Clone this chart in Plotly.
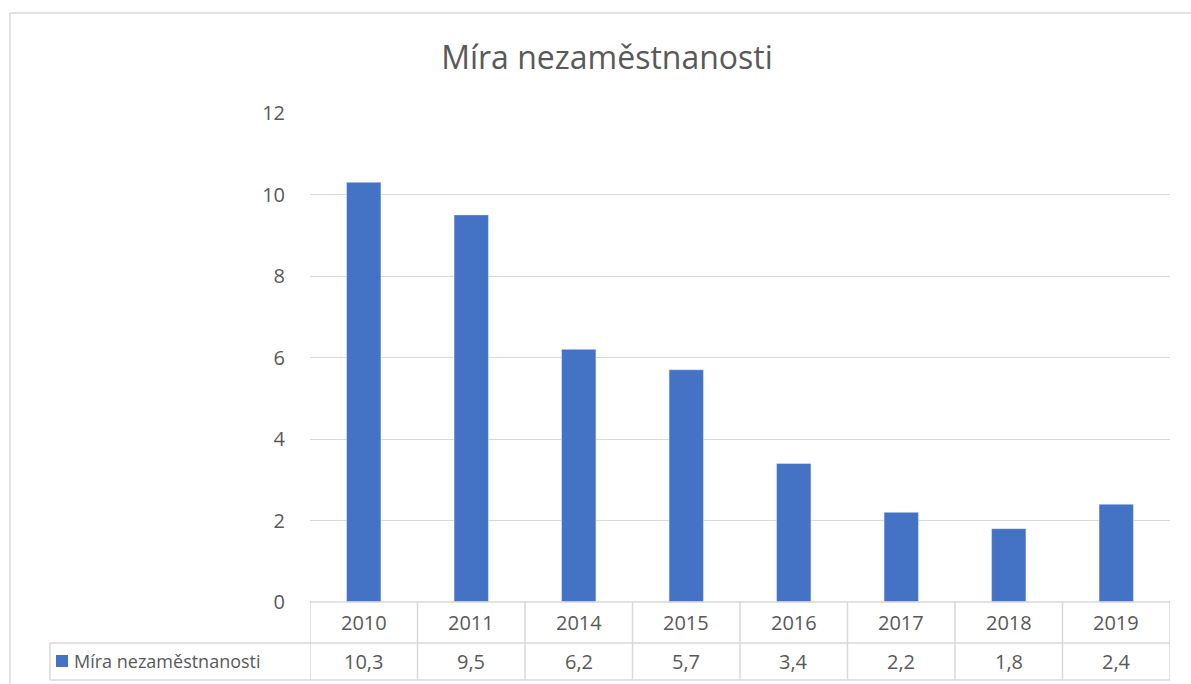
import plotly.graph_objects as go

years = ["2010", "2011", "2014", "2015", "2016", "2017", "2018", "2019"]
rate = [10.3, 9.5, 6.2, 5.7, 3.4, 2.2, 1.8, 2.4]
rate_labels = ["10,3", "9,5", "6,2", "5,7", "3,4", "2,2", "1,8", "2,4"]
series_name = "Míra nezaměstnanosti"
title_text = "Míra nezaměstnanosti"

W, H = 1191, 684
BLUE = "#4472C4"
GRID = "#d9d9d9"
TXT = "#595959"
FONT = "Open Sans, Noto Sans, sans-serif"

def px(x):
    return x / W

def py(y):
    return 1 - y / H

fig = go.Figure()
fig.add_trace(go.Bar(x=years, y=rate, marker_color=BLUE, width=0.32,
                     name=series_name, showlegend=False))

x_left, x_right = 310, 1170
y_top, y_bot = 113, 602
row1, row2 = 643, 680

fig.update_layout(
    width=W, height=H,
    margin=dict(l=0, r=0, t=0, b=0, pad=0, autoexpand=False),
    paper_bgcolor="white", plot_bgcolor="white",
    font=dict(family=FONT, color=TXT, size=20),
    title=dict(text=title_text, x=607 / W, xanchor="center", y=py(58), yanchor="middle",
               font=dict(size=32, color=TXT, family=FONT)),
    xaxis=dict(domain=[px(x_left), px(x_right)], range=[-0.5, 7.5], type="category",
               showticklabels=False, showgrid=False, zeroline=False, showline=False,
               automargin=False),
    yaxis=dict(domain=[py(y_bot), py(y_top)], range=[0, 12], dtick=2,
               showgrid=True, gridcolor=GRID, gridwidth=1, zeroline=False,
               showline=False, ticklabelstandoff=24, automargin=False,
               tickfont=dict(size=20, color=TXT)),
    showlegend=False,
)

shapes = []
line = dict(color=GRID, width=1.5)
# chart border
shapes.append(dict(type="line", xref="paper", yref="paper", x0=px(10), x1=1, y0=py(13), y1=py(13), line=line))
shapes.append(dict(type="line", xref="paper", yref="paper", x0=px(10), x1=px(10), y0=py(13), y1=0, line=line))
# table horizontal lines
shapes.append(dict(type="line", xref="x", yref="paper", x0=-0.5, x1=7.5, y0=py(y_bot), y1=py(y_bot), line=line))
for yy in (row1, row2):
    shapes.append(dict(type="line", xref="paper", yref="paper", x0=px(50), x1=px(x_right),
                       y0=py(yy), y1=py(yy), line=line))
# table vertical lines
for i in range(len(years) + 1):
    shapes.append(dict(type="line", xref="x", yref="paper", x0=i - 0.5, x1=i - 0.5,
                       y0=py(y_bot), y1=py(row2), line=line))
shapes.append(dict(type="line", xref="paper", yref="paper", x0=px(50), x1=px(50),
                   y0=py(row1), y1=py(row2), line=line))
# legend swatch
shapes.append(dict(type="rect", xref="paper", yref="paper", x0=px(56), x1=px(68),
                   y0=py(667), y1=py(655), fillcolor=BLUE, line=dict(width=0)))
fig.update_layout(shapes=shapes)

ann = []
for i, (yr, lab) in enumerate(zip(years, rate_labels)):
    ann.append(dict(x=i, xref="x", y=py(622), yref="paper", text=yr, showarrow=False,
                    xanchor="center", yanchor="middle", font=dict(size=20, color=TXT)))
    ann.append(dict(x=i, xref="x", y=py(661), yref="paper", text=lab, showarrow=False,
                    xanchor="center", yanchor="middle", font=dict(size=20, color=TXT)))
ann.append(dict(x=px(72), xref="paper", y=py(661), yref="paper", text=series_name, showarrow=False,
                xanchor="left", yanchor="middle", font=dict(size=18, color=TXT)))
fig.update_layout(annotations=ann)

fig.write_html("out.html", config={"displayModeBar": False},
               post_script="document.body.style.margin='0';")
